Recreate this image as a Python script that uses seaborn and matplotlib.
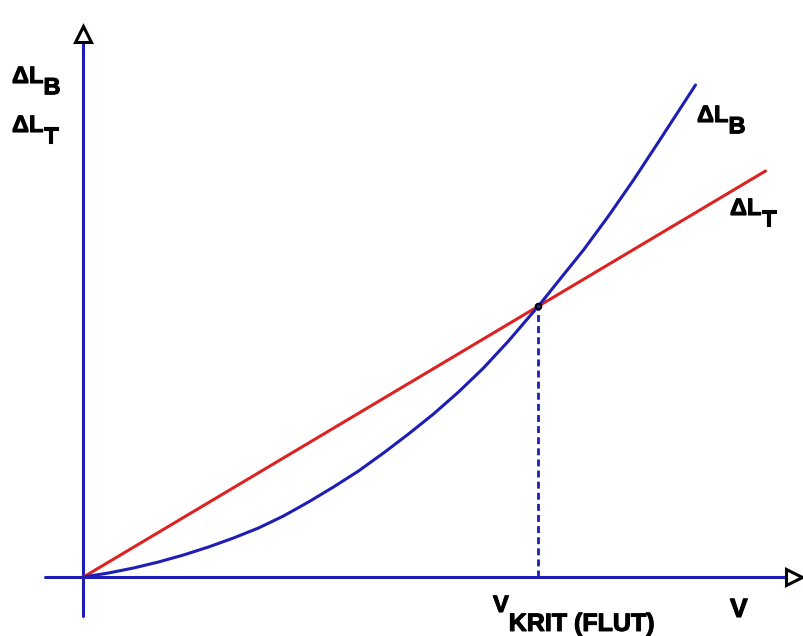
import numpy as np
import pandas as pd
import seaborn as sns
import matplotlib.pyplot as plt
import matplotlib.patheffects as pe

# curve values (pixels from the origin)
v_b = [0, 25, 50, 75, 100, 125, 150, 175, 200, 225, 250, 275, 300, 325, 350, 375, 400, 425,
       455, 475, 500, 525, 550, 575, 612]
dl_b = [0, 4, 9, 15, 22, 30, 39, 49, 61, 75, 90, 106, 124, 143, 163, 185, 209, 236,
        271, 296, 327, 361, 397, 435, 492]
v_t = [0, 682]
dl_t = [0, 406]
v_krit = 455
dl_krit = 271

blue = '#1e1eb4'
red = '#dd2222'

sns.set_style('white')
plt.rcParams['font.family'] = ['Liberation Sans', 'DejaVu Sans']
plt.rcParams['text.color'] = 'black'

fig = plt.figure(figsize=(8.04, 6.36), dpi=100)
ax = fig.add_axes([0, 0, 1, 1])
ax.set_xlim(-83.5, 720.5)
ax.set_ylim(-59, 577)
ax.axis('off')

# axes with open arrow heads
ax.axhline(0, xmin=45 / 804, xmax=785 / 804, color=blue, lw=2.2, zorder=1)
ax.axvline(0, ymin=20 / 636, ymax=594 / 636, color=blue, lw=2.2, zorder=1)
ax.plot(0, 543.5, marker='^', ms=12, mfc='white', mec='black', mew=2.2, zorder=5)
ax.plot(710.5, 0, marker='>', ms=12, mfc='white', mec='black', mew=2.2, zorder=5)

df_b = pd.DataFrame({'v': v_b, 'dl': dl_b})
df_t = pd.DataFrame({'v': v_t, 'dl': dl_t})
sns.lineplot(data=df_t, x='v', y='dl', color=red, lw=2.2, ax=ax, zorder=3)
sns.lineplot(data=df_b, x='v', y='dl', color=blue, lw=2.2, ax=ax, zorder=3)

# critical speed
ax.plot([v_krit, v_krit], [0, dl_krit], color=blue, lw=2, dashes=(2.5, 1.5), zorder=2)
ax.plot(v_krit, dl_krit, marker='o', ms=4, mfc='none', mec='black', mew=1.5, zorder=6)

heavy = [pe.withStroke(linewidth=0.8, foreground='black')]


def label(x, y, main, sub, size=17, sub_size=17, drop=4.5):
    t = ax.text(x, y, main, fontsize=size, fontweight='bold', va='baseline', ha='left',
                color='black', path_effects=heavy)
    ax.annotate(sub, xy=(1, 0), xycoords=t, xytext=(0, -drop), textcoords='offset points',
                fontsize=sub_size, fontweight='bold', va='baseline', ha='left', color='black',
                path_effects=heavy)


label(-71.5, 494, '\u0394L', 'B')
label(-71.5, 445, '\u0394L', 'T')
label(613.5, 455, '\u0394L', 'B')
label(646.5, 362, '\u0394L', 'T')
label(409.5, -35, 'V', 'KRIT (FLUT)', size=17, sub_size=18, drop=10)
ax.text(646.5, -40, 'V', fontsize=19, fontweight='bold', va='baseline', ha='left', color='black',
        path_effects=heavy)

plt.savefig('out.png', dpi=100)
